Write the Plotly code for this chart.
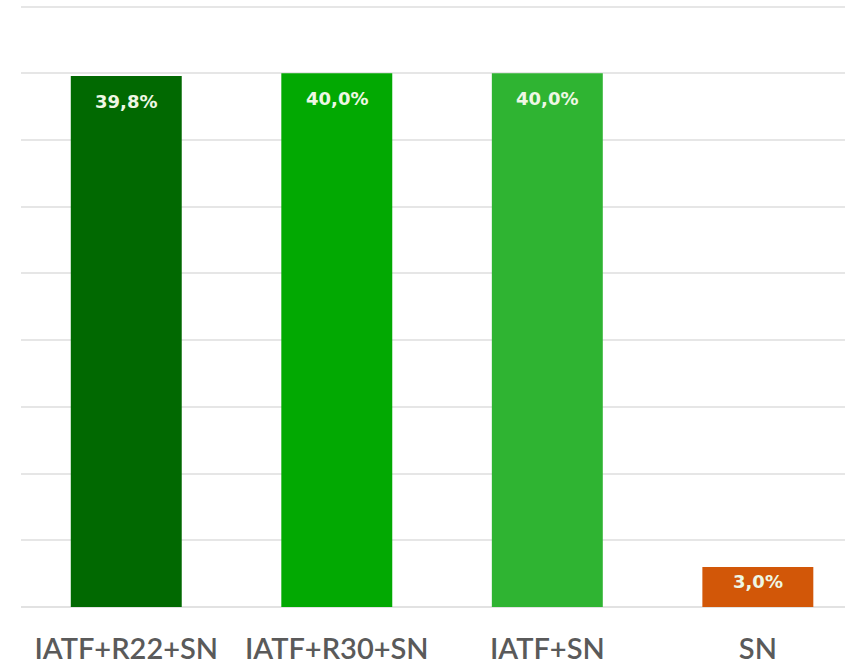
import plotly.graph_objects as go

categories = ["IATF+R22+SN", "IATF+R30+SN", "IATF+SN", "SN"]
values = [39.8, 40.0, 40.0, 3.0]
labels = ["39,8%", "40,0%", "40,0%", "3,0%"]
colors = ["#016901", "#02a902", "#2fb432", "#d25708"]

fig = go.Figure()
fig.add_trace(go.Bar(
    x=categories, y=values, marker=dict(color=colors, line=dict(width=0)),
    width=0.527, hoverinfo="skip",
))

for c, v, t in zip(categories, values, labels):
    fig.add_annotation(
        x=c, y=v, text=f"<b>{t}</b>", showarrow=False,
        yanchor="middle", yshift=-25 if v > 10 else -15,
        font=dict(family="DejaVu Sans", size=18, color="#eef7e4"),
    )

fig.update_layout(
    width=854, height=664,
    margin=dict(l=21, r=9, t=0, b=57),
    paper_bgcolor="white", plot_bgcolor="white",
    showlegend=False,
    xaxis=dict(
        range=[-0.5, 3.414], showgrid=False, showline=False, zeroline=False,
        tickfont=dict(family="Lato", size=29, color="#5a5a5a", weight=600),
        ticks="", ticklabelstandoff=22, automargin=False,
    ),
    yaxis=dict(
        range=[0, 45.5], tickvals=[0, 5, 10, 15, 20, 25, 30, 35, 40, 45],
        showticklabels=False, showgrid=True, automargin=False,
        gridcolor="#e6e6e6", gridwidth=2, zeroline=True,
        zerolinecolor="#e2e2e2", zerolinewidth=2, showline=False,
    ),
)

fig.write_html("out.html")
